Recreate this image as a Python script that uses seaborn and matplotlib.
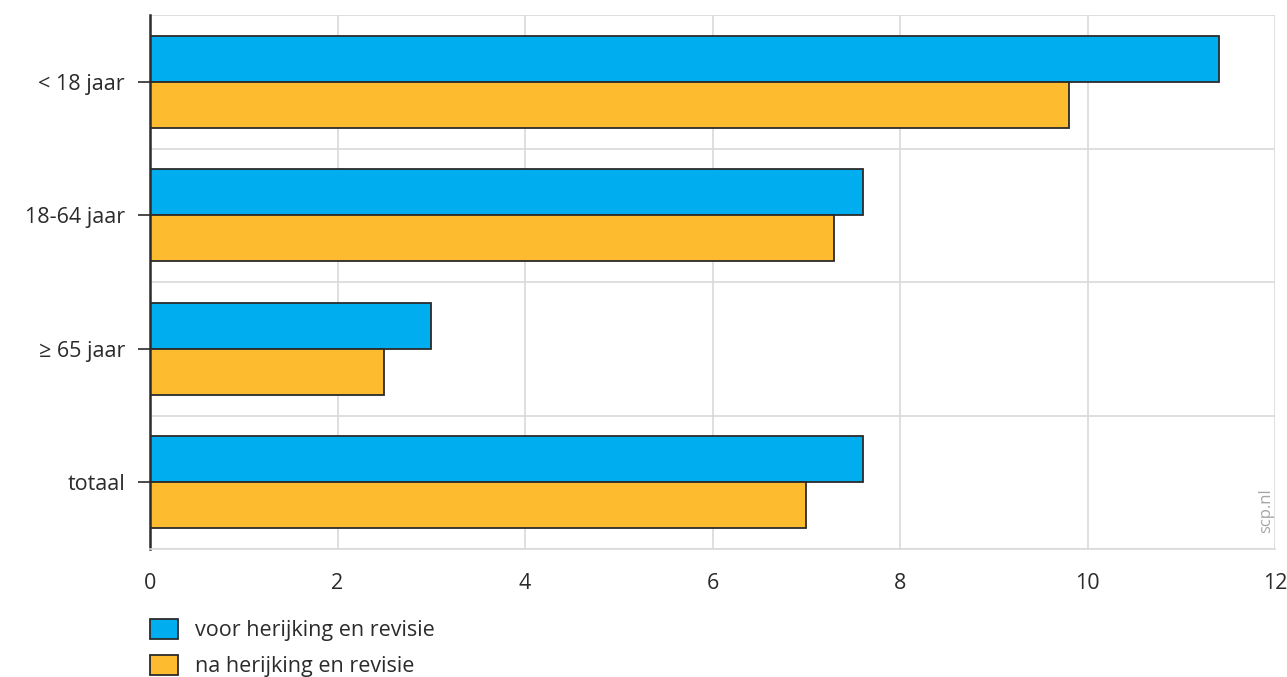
import pandas as pd
import seaborn as sns
import matplotlib.pyplot as plt
from matplotlib.patches import Patch
from matplotlib.ticker import MultipleLocator

sns.set_style("white")
plt.rcParams['font.family'] = ['Open Sans', 'DejaVu Sans']

# data
categories = ["< 18 jaar", "18-64 jaar", "≥ 65 jaar", "totaal"]
series = ["voor herijking en revisie", "na herijking en revisie"]
voor = [11.4, 7.6, 3.0, 7.6]
na = [9.8, 7.3, 2.5, 7.0]
colors = ["#00AEEF", "#FDBB30"]

df = pd.DataFrame({
    "groep": categories * 2,
    "reeks": [series[0]] * 4 + [series[1]] * 4,
    "waarde": voor + na,
})

text_col = "#2b2b2b"
fig = plt.figure(figsize=(12.87, 6.77), dpi=100)
ax = fig.add_axes([150 / 1287, 1 - 549 / 677, 1125 / 1287, 534 / 677])

sns.barplot(data=df, y="groep", x="waarde", hue="reeks", order=categories,
            hue_order=series, palette=colors, orient="h", width=0.69,
            edgecolor="#2b2b2b", linewidth=1.3, saturation=1, ax=ax, legend=False)

ax.set_xlim(0, 12)
ax.set_ylim(3.5, -0.5)
ax.xaxis.set_major_locator(MultipleLocator(2))
ax.yaxis.set_minor_locator(MultipleLocator(1, offset=0.5))
ax.grid(axis="x", which="major", color="#d9d9d9", linewidth=1.2)
ax.grid(axis="y", which="minor", color="#d9d9d9", linewidth=1.2)
ax.set_axisbelow(True)
ax.set_xlabel("")
ax.set_ylabel("")

for s in ["top", "right"]:
    ax.spines[s].set_visible(False)
ax.spines["bottom"].set_color("#d9d9d9")
ax.spines["bottom"].set_linewidth(1.2)
ax.spines["left"].set_color("#2b2b2b")
ax.spines["left"].set_linewidth(1.8)

ax.tick_params(axis="y", which="major", left=True, length=9, width=1.2,
               color="#2b2b2b", labelsize=15.5, labelcolor=text_col, pad=9)
ax.tick_params(axis="y", which="minor", left=False, length=0)
ax.tick_params(axis="x", bottom=False, length=0, labelsize=15.5,
               labelcolor=text_col, pad=17)

ax.text(0.992, 0.03, "scp.nl", transform=ax.transAxes, rotation=90,
        ha="center", va="bottom", color="#a6a6a6", fontsize=12)

handles = [Patch(facecolor=c, edgecolor="#2b2b2b", linewidth=1.3) for c in colors]
fig.legend(handles, series, loc="upper left", bbox_to_anchor=(131 / 1287, 1 - 600 / 677),
           frameon=False, fontsize=15.5, labelcolor=text_col, handlelength=1.3,
           handleheight=1.0, handletextpad=0.75, labelspacing=0.65)

fig.savefig("out.png", dpi=100)
